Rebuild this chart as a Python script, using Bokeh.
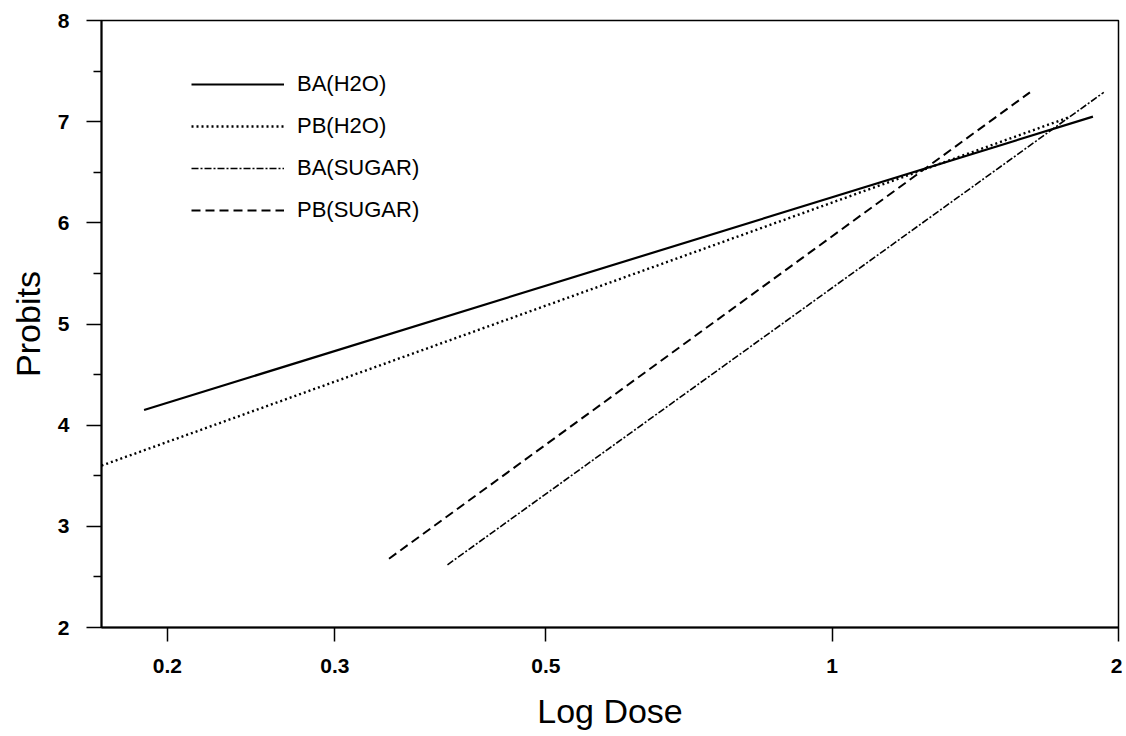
from bokeh.plotting import figure
from bokeh.models import FixedTicker, CustomJSTickFormatter, Range1d, Legend, LegendItem
from bokeh.embed import file_html
from bokeh.resources import INLINE

# Fitted probit lines (straight on log dose): endpoints
ba_h2o_dose = [0.189, 1.88]
ba_h2o_probit = [4.15, 7.05]
pb_h2o_dose = [0.1705, 1.77]
pb_h2o_probit = [3.60, 7.04]
ba_sugar_dose = [0.394, 1.93]
ba_sugar_probit = [2.62, 7.29]
pb_sugar_dose = [0.342, 1.614]
pb_sugar_probit = [2.68, 7.29]

series_names = ["BA(H2O)", "PB(H2O)", "BA(SUGAR)", "PB(SUGAR)"]
x_ticks = [0.2, 0.3, 0.5, 1, 2]
y_ticks = [2, 3, 4, 5, 6, 7, 8]
y_minor = [2.5, 3.5, 4.5, 5.5, 6.5, 7.5]

p = figure(width=1122, height=736, x_axis_type="log",
           x_range=Range1d(0.1705, 2.0), y_range=Range1d(2, 8),
           output_backend="svg", toolbar_location=None,
           min_border_left=101, min_border_right=4, min_border_top=20, min_border_bottom=109)
p.xgrid.visible = False
p.ygrid.visible = False
p.outline_line_color = "black"
p.outline_line_width = 1.5
p.background_fill_color = "white"
p.border_fill_color = "white"

r1 = p.line(ba_h2o_dose, ba_h2o_probit, line_color="black", line_width=2.2)
r2 = p.line(pb_h2o_dose, pb_h2o_probit, line_color="black", line_width=2.4, line_dash="2 3")
r3 = p.line(ba_sugar_dose, ba_sugar_probit, line_color="black", line_width=1.6, line_dash="7 2 2 2")
r4 = p.line(pb_sugar_dose, pb_sugar_probit, line_color="black", line_width=2, line_dash="9 5")

items = [LegendItem(label=n, renderers=[r]) for n, r in zip(series_names, [r1, r2, r3, r4])]
legend = Legend(items=items, location=(90, 404))
legend.border_line_color = None
legend.background_fill_alpha = 0
legend.padding = 0
legend.margin = 0
legend.spacing = 16
legend.glyph_width = 93
legend.glyph_height = 24
legend.label_height = 24
legend.label_standoff = 13
legend.label_text_font = "Liberation Sans"
legend.label_text_font_size = "22px"
legend.label_text_color = "black"
p.add_layout(legend, "center")

xa = p.xaxis[0]
xa.ticker = FixedTicker(ticks=x_ticks, minor_ticks=[])
xa.formatter = CustomJSTickFormatter(code="return String(tick);")
xa.axis_label = "Log Dose"
xa.major_tick_out = 14
xa.major_tick_in = 0
xa.minor_tick_out = 0
xa.minor_tick_in = 0
xa.major_label_standoff = 17
xa.axis_label_standoff = 16

ya = p.yaxis[0]
ya.ticker = FixedTicker(ticks=y_ticks, minor_ticks=y_minor)
ya.axis_label = "Probits"
ya.major_tick_out = 15
ya.major_tick_in = 0
ya.minor_tick_out = 8
ya.minor_tick_in = 0
ya.major_label_standoff = 17
ya.axis_label_standoff = 8

for ax in (xa, ya):
    ax.axis_line_color = "black"
    ax.axis_line_width = 2
    ax.major_tick_line_color = "black"
    ax.major_tick_line_width = 1.5
    ax.minor_tick_line_color = "black"
    ax.minor_tick_line_width = 1.5
    ax.major_label_text_font = "Liberation Sans"
    ax.major_label_text_font_style = "bold"
    ax.major_label_text_font_size = "21px"
    ax.major_label_text_color = "black"
    ax.axis_label_text_font = "Liberation Sans"
    ax.axis_label_text_font_style = "normal"
    ax.axis_label_text_font_size = "34px"
    ax.axis_label_text_color = "black"

open("out.html", "w").write(file_html(p, INLINE))
